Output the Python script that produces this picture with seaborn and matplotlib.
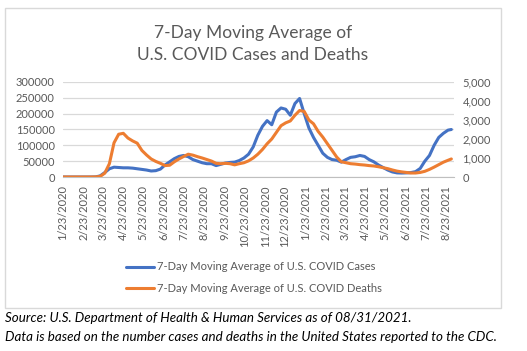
import matplotlib
matplotlib.use("Agg")
import matplotlib.pyplot as plt
import matplotlib.ticker as mticker
import matplotlib.dates as mdates
from matplotlib.patches import Rectangle
import pandas as pd
import seaborn as sns

# weekly readings, starting 1/23/2020, plus the last day 8/31/2021
cases = [0, 0, 0, 0, 0, 0, 30, 300, 3500, 14000,
         26000, 31000, 30000, 29000, 29000, 28000, 26000, 24000, 22000, 19000,
         20000, 25000, 38000, 48000, 58000, 65000, 68000, 64000, 55000, 50000,
         45000, 42000, 42000, 36000, 40000, 44000, 46000, 47000, 52000, 60000,
         72000, 95000, 132000, 160000, 178000, 165000, 205000, 218000, 214000, 195000,
         232000, 248000, 200000, 155000, 125000, 100000, 75000, 62000, 55000, 53000,
         47000, 55000, 62000, 64000, 68000, 65000, 55000, 48000, 38000, 30000,
         22000, 16000, 13000, 12500, 13000, 14000, 17000, 27000, 50000, 68000,
         100000, 125000, 138000, 148000, 150000]
deaths = [0, 0, 0, 0, 0, 0, 1, 5, 30, 200,
          700, 1800, 2250, 2300, 2050, 1900, 1780, 1400, 1160, 950,
          820, 720, 600, 620, 800, 950, 1080, 1200, 1150, 1070,
          1000, 920, 840, 720, 700, 720, 700, 640, 700, 750,
          850, 1000, 1200, 1450, 1750, 2000, 2350, 2700, 2850, 2950,
          3250, 3500, 3450, 3000, 2800, 2400, 2100, 1750, 1400, 1050,
          800, 750, 700, 680, 650, 630, 600, 580, 540, 490,
          440, 370, 310, 270, 240, 210, 210, 240, 300, 400,
          520, 650, 780, 880, 950]
dates = list(pd.date_range("2020-01-23", periods=84, freq="7D")) + [pd.Timestamp("2021-08-31")]

tick_labels = ["1/23/2020", "2/23/2020", "3/23/2020", "4/23/2020", "5/23/2020",
               "6/23/2020", "7/23/2020", "8/23/2020", "9/23/2020", "10/23/2020",
               "11/23/2020", "12/23/2020", "1/23/2021", "2/23/2021", "3/23/2021",
               "4/23/2021", "5/23/2021", "6/23/2021", "7/23/2021", "8/23/2021"]

title = "7-Day Moving Average of\nU.S. COVID Cases and Deaths"
lbl_cases = "7-Day Moving Average of U.S. COVID Cases"
lbl_deaths = "7-Day Moving Average of U.S. COVID Deaths"
note1 = "Source: U.S. Department of Health & Human Services as of 08/31/2021."
note2 = "Data is based on the number cases and deaths in the United States reported to the CDC."

df = pd.DataFrame({"date": dates, "cases": cases, "deaths": deaths})

sns.set_style("white")
plt.rcParams["font.family"] = ["Lato", "DejaVu Sans"]
grey = "#595959"
blue = "#4472C4"
orange = "#ED7D31"

fig = plt.figure(figsize=(5.27, 3.51), dpi=100)
ax = fig.add_axes([63 / 527, 1 - 177 / 351, (454 - 63) / 527, (177 - 82) / 351])
ax2 = ax.twinx()

sns.lineplot(data=df, x="date", y="cases", ax=ax, color=blue, lw=2.2, label=lbl_cases, legend=False)
sns.lineplot(data=df, x="date", y="deaths", ax=ax2, color=orange, lw=2.2, label=lbl_deaths, legend=False)

ax.set_ylim(0, 300000)
ax2.set_ylim(0, 5000)
ax.set_xlim(pd.Timestamp("2020-01-23"), pd.Timestamp("2021-09-04"))
ax.yaxis.set_major_locator(mticker.MultipleLocator(50000))
ax2.yaxis.set_major_locator(mticker.MultipleLocator(1000))
ax2.yaxis.set_major_formatter(mticker.StrMethodFormatter("{x:,.0f}"))
ax.grid(axis="y", color="#d9d9d9", lw=0.9)
ax.set_axisbelow(True)

ticks = pd.to_datetime(tick_labels, format="%m/%d/%Y")
ax.set_xticks(mdates.date2num(ticks))
ax.set_xticklabels(tick_labels, rotation=90)

for a in (ax, ax2):
    a.set_xlabel("")
    a.set_ylabel("")
    for s in a.spines.values():
        s.set_visible(False)
ax.spines["bottom"].set_visible(True)
ax.spines["bottom"].set_color("#bfbfbf")
ax.tick_params(axis="x", colors=grey, labelsize=8, length=4, width=0.8, color="#bfbfbf", pad=2)
ax.tick_params(axis="y", colors=grey, labelsize=8, length=0, pad=6)
ax2.tick_params(axis="y", colors=grey, labelsize=8, length=0, pad=6)

fig.text(253 / 527, 1 - 44 / 351, title, ha="center", va="center", fontsize=12.5,
         color=grey, linespacing=1.45)

h1, l1 = ax.get_legend_handles_labels()
h2, l2 = ax2.get_legend_handles_labels()
fig.legend(h1 + h2, l1 + l2, loc="center", bbox_to_anchor=(254 / 527, 1 - 277.5 / 351),
           frameon=False, fontsize=8, labelcolor=grey, handlelength=2.5, handletextpad=0.25,
           labelspacing=0.9)

fig.add_artist(Rectangle((5 / 527, 1 - 308 / 351), 496 / 527, 300 / 351,
                         transform=fig.transFigure, fill=False, edgecolor="#d9d9d9", lw=1))
fig.text(5 / 527, 1 - 318 / 351, note1, ha="left", va="center", fontsize=9.6, style="italic", color="black")
fig.text(5 / 527, 1 - 337 / 351, note2, ha="left", va="center", fontsize=9.6, style="italic", color="black")

fig.savefig("out.png", dpi=100)
